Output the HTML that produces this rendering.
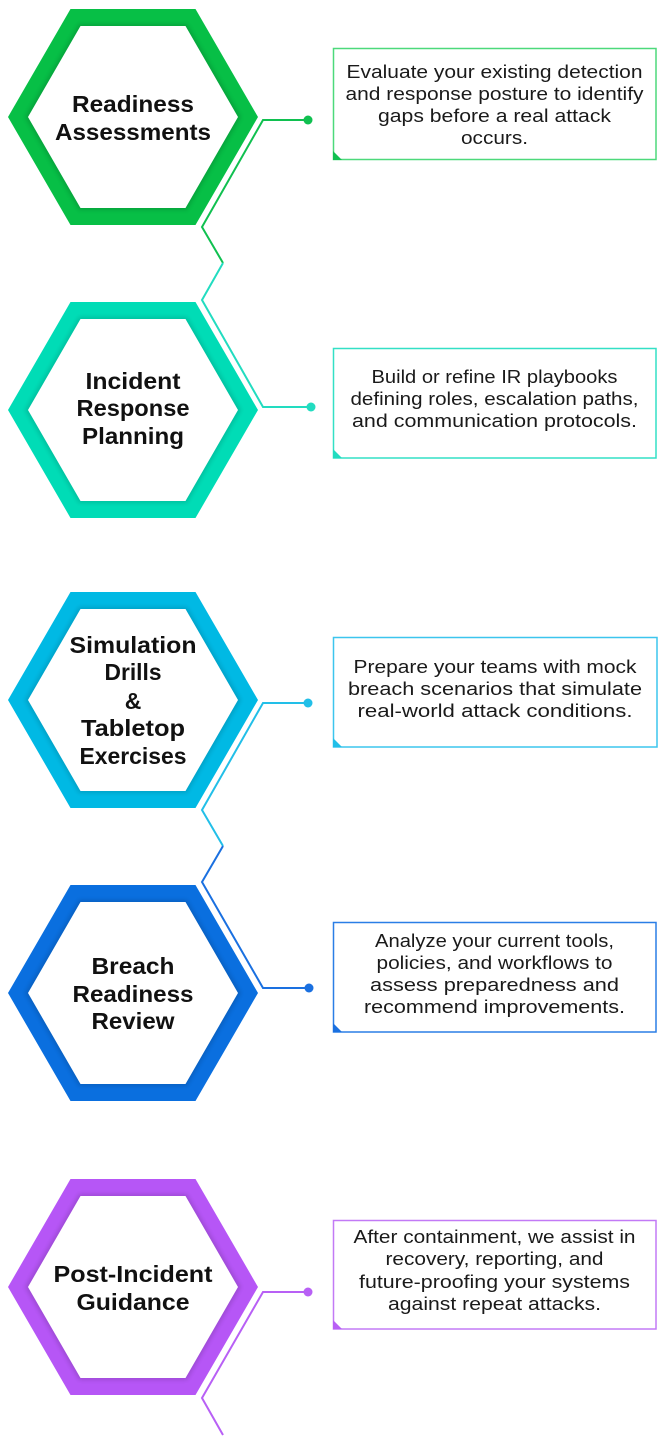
<!DOCTYPE html>
<html>
<head>
<meta charset="utf-8">
<style>
  html,body{margin:0;padding:0;background:#fff;}
  body{width:667px;height:1450px;overflow:hidden;}
  svg{display:block;}
  .ht{font-family:"Liberation Sans",sans-serif;font-weight:bold;font-size:23px;fill:#111;text-anchor:middle;}
  .bt{font-family:"Liberation Sans",sans-serif;font-size:18px;fill:#1a1a1a;text-anchor:middle;}
  .ln{fill:none;stroke-width:2;stroke-linejoin:miter;}
</style>
</head>
<body>
<svg width="667" height="1450" viewBox="0 0 667 1450" xmlns="http://www.w3.org/2000/svg">
  <defs>
    <filter id="blur" x="-20%" y="-20%" width="140%" height="140%">
      <feGaussianBlur stdDeviation="2"/>
    </filter>
    <polygon id="hOut" points="8,0 70.5,-108 195.5,-108 258,0 195.5,108 70.5,108"/>
    <polygon id="hShade" points="25,0 79,-93 187,-93 241,0 187,93 79,93"/>
    <polygon id="hIn" points="28,0 80.5,-91 185.5,-91 238,0 185.5,91 80.5,91"/>
  </defs>

  <!-- Hexagon 1 -->
  <g transform="translate(0,117)">
    <use href="#hOut" fill="#07bf46"/>
    <use href="#hShade" fill="#000" opacity="0.14" filter="url(#blur)"/>
    <use href="#hIn" fill="#fff"/>
  </g>
  <!-- Hexagon 2 -->
  <g transform="translate(0,410)">
    <use href="#hOut" fill="#00dcb6"/>
    <use href="#hShade" fill="#000" opacity="0.12" filter="url(#blur)"/>
    <use href="#hIn" fill="#fff"/>
  </g>
  <!-- Hexagon 3 -->
  <g transform="translate(0,700)">
    <use href="#hOut" fill="#00b9e4"/>
    <use href="#hShade" fill="#000" opacity="0.12" filter="url(#blur)"/>
    <use href="#hIn" fill="#fff"/>
  </g>
  <!-- Hexagon 4 -->
  <g transform="translate(0,993)">
    <use href="#hOut" fill="#0a6fdf"/>
    <use href="#hShade" fill="#000" opacity="0.13" filter="url(#blur)"/>
    <use href="#hIn" fill="#fff"/>
  </g>
  <!-- Hexagon 5 -->
  <g transform="translate(0,1287)">
    <use href="#hOut" fill="#b656f6"/>
    <use href="#hShade" fill="#000" opacity="0.13" filter="url(#blur)"/>
    <use href="#hIn" fill="#fff"/>
  </g>

  <!-- Hexagon labels -->
  <text class="ht" x="133" y="112" textLength="122" lengthAdjust="spacingAndGlyphs">Readiness</text>
  <text class="ht" x="133" y="140" textLength="156" lengthAdjust="spacingAndGlyphs">Assessments</text>

  <text class="ht" x="133" y="389" textLength="95" lengthAdjust="spacingAndGlyphs">Incident</text>
  <text class="ht" x="133" y="416" textLength="113" lengthAdjust="spacingAndGlyphs">Response</text>
  <text class="ht" x="133" y="444" textLength="102" lengthAdjust="spacingAndGlyphs">Planning</text>

  <text class="ht" x="133" y="653" textLength="127" lengthAdjust="spacingAndGlyphs">Simulation</text>
  <text class="ht" x="133" y="680" textLength="57" lengthAdjust="spacingAndGlyphs">Drills</text>
  <text class="ht" x="133" y="709">&amp;</text>
  <text class="ht" x="133" y="736" textLength="104" lengthAdjust="spacingAndGlyphs">Tabletop</text>
  <text class="ht" x="133" y="764" textLength="107" lengthAdjust="spacingAndGlyphs">Exercises</text>

  <text class="ht" x="133" y="974" textLength="83" lengthAdjust="spacingAndGlyphs">Breach</text>
  <text class="ht" x="133" y="1002" textLength="121" lengthAdjust="spacingAndGlyphs">Readiness</text>
  <text class="ht" x="133" y="1029" textLength="83" lengthAdjust="spacingAndGlyphs">Review</text>

  <text class="ht" x="133" y="1282" textLength="159" lengthAdjust="spacingAndGlyphs">Post-Incident</text>
  <text class="ht" x="133" y="1310" textLength="113" lengthAdjust="spacingAndGlyphs">Guidance</text>

  <!-- Connectors -->
  <path class="ln" stroke="#10c050" d="M308,120 H263 L202,227 L223,263"/>
  <path class="ln" stroke="#22dcc0" d="M223,263 L202,300 L263,407 H311"/>
  <circle cx="308" cy="120" r="4.5" fill="#10c050"/>
  <circle cx="311" cy="407" r="4.5" fill="#22dcc0"/>

  <path class="ln" stroke="#22bfe8" d="M308,703 H263 L202,810 L223,846"/>
  <path class="ln" stroke="#1a70e0" d="M223,846 L202,882 L263,988 H309"/>
  <circle cx="308" cy="703" r="4.5" fill="#22bfe8"/>
  <circle cx="309" cy="988" r="4.5" fill="#1a70e0"/>

  <path class="ln" stroke="#b860f5" d="M308,1292 H263 L202,1398 L223,1435"/>
  <circle cx="308" cy="1292" r="4.5" fill="#b860f5"/>

  <!-- Boxes -->
  <rect x="333.5" y="48.5" width="322.5" height="111" fill="#fff" stroke="#4dd97b" stroke-width="1.5"/>
  <polygon points="333,151 333,160 342,160" fill="#10c050"/>
  <text class="bt" x="494.5" y="78" textLength="296" lengthAdjust="spacingAndGlyphs">Evaluate your existing detection</text>
  <text class="bt" x="494.5" y="100" textLength="298" lengthAdjust="spacingAndGlyphs">and response posture to identify</text>
  <text class="bt" x="494.5" y="122" textLength="233" lengthAdjust="spacingAndGlyphs">gaps before a real attack</text>
  <text class="bt" x="494.5" y="144" textLength="67" lengthAdjust="spacingAndGlyphs">occurs.</text>

  <rect x="333.5" y="348.5" width="322.5" height="109.5" fill="#fff" stroke="#33e0c6" stroke-width="1.5"/>
  <polygon points="333,449 333,458 342,458" fill="#22dcc0"/>
  <text class="bt" x="494.5" y="383" textLength="246" lengthAdjust="spacingAndGlyphs">Build or refine IR playbooks</text>
  <text class="bt" x="494.5" y="405" textLength="288" lengthAdjust="spacingAndGlyphs">defining roles, escalation paths,</text>
  <text class="bt" x="494.5" y="427" textLength="285" lengthAdjust="spacingAndGlyphs">and communication protocols.</text>

  <rect x="333.5" y="637.5" width="323.5" height="109.5" fill="#fff" stroke="#3cc5ee" stroke-width="1.5"/>
  <polygon points="333,738 333,747 342,747" fill="#22bfe8"/>
  <text class="bt" x="495" y="673" textLength="283" lengthAdjust="spacingAndGlyphs">Prepare your teams with mock</text>
  <text class="bt" x="495" y="695" textLength="294" lengthAdjust="spacingAndGlyphs">breach scenarios that simulate</text>
  <text class="bt" x="495" y="717" textLength="275" lengthAdjust="spacingAndGlyphs">real-world attack conditions.</text>

  <rect x="333.5" y="922.5" width="322.5" height="109.5" fill="#fff" stroke="#2a7ee6" stroke-width="1.5"/>
  <polygon points="333,1023 333,1032 342,1032" fill="#1a70e0"/>
  <text class="bt" x="494.5" y="947" textLength="239" lengthAdjust="spacingAndGlyphs">Analyze your current tools,</text>
  <text class="bt" x="494.5" y="969" textLength="236" lengthAdjust="spacingAndGlyphs">policies, and workflows to</text>
  <text class="bt" x="494.5" y="991" textLength="249" lengthAdjust="spacingAndGlyphs">assess preparedness and</text>
  <text class="bt" x="494.5" y="1013" textLength="261" lengthAdjust="spacingAndGlyphs">recommend improvements.</text>

  <rect x="333.5" y="1220.5" width="322.5" height="108.5" fill="#fff" stroke="#c27af6" stroke-width="1.5"/>
  <polygon points="333,1320 333,1329 342,1329" fill="#b860f5"/>
  <text class="bt" x="494.5" y="1243" textLength="282" lengthAdjust="spacingAndGlyphs">After containment, we assist in</text>
  <text class="bt" x="494.5" y="1265" textLength="218" lengthAdjust="spacingAndGlyphs">recovery, reporting, and</text>
  <text class="bt" x="494.5" y="1288" textLength="271" lengthAdjust="spacingAndGlyphs">future-proofing your systems</text>
  <text class="bt" x="494.5" y="1310" textLength="213" lengthAdjust="spacingAndGlyphs">against repeat attacks.</text>
</svg>
</body>
</html>
